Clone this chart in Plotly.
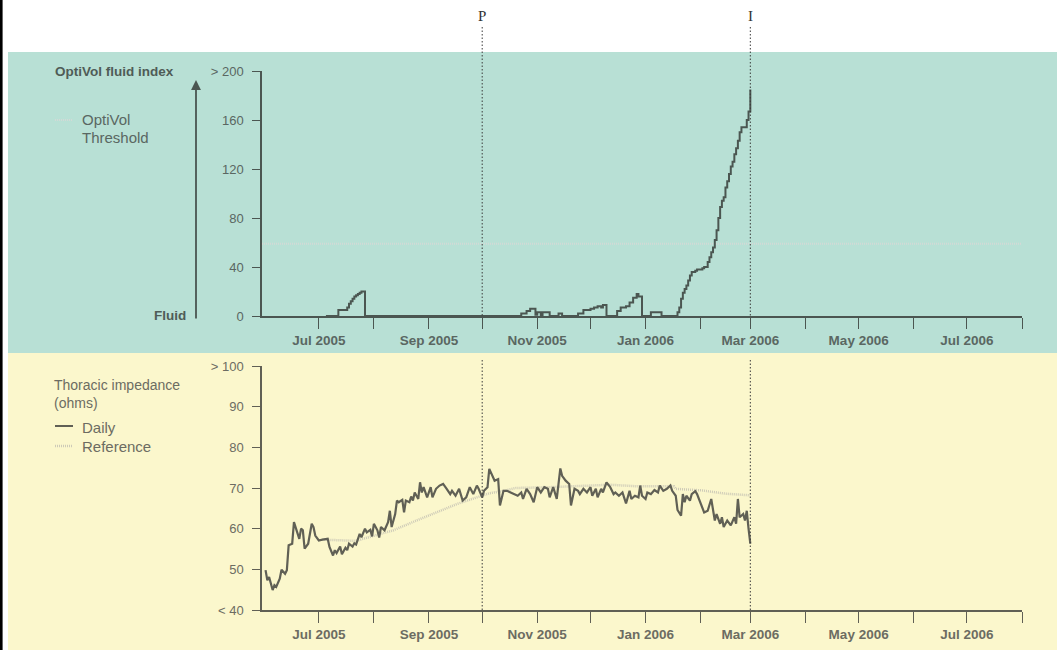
import plotly.graph_objects as go

# ---------------- data ----------------
# OptiVol fluid index (step series)
fluid_dates = [
    "2005-07-05", "2005-07-12", "2005-07-17", "2005-07-18", "2005-07-19", "2005-07-20",
    "2005-07-21", "2005-07-22", "2005-07-23", "2005-07-24", "2005-07-25", "2005-07-27",
    "2005-10-23", "2005-10-26", "2005-10-28", "2005-10-31", "2005-11-01", "2005-11-03",
    "2005-11-04", "2005-11-08", "2005-11-13", "2005-11-15", "2005-11-24", "2005-11-27",
    "2005-12-01", "2005-12-03", "2005-12-05", "2005-12-07", "2005-12-08", "2005-12-10",
    "2005-12-16", "2005-12-18", "2005-12-21", "2005-12-23", "2005-12-25", "2005-12-27",
    "2005-12-28", "2005-12-30", "2006-01-04", "2006-01-10", "2006-01-19", "2006-01-20",
    "2006-01-21", "2006-01-22", "2006-01-23", "2006-01-24", "2006-01-25", "2006-01-26",
    "2006-01-27", "2006-01-28", "2006-01-29", "2006-01-30", "2006-02-02", "2006-02-03",
    "2006-02-05", "2006-02-06", "2006-02-07", "2006-02-08", "2006-02-09", "2006-02-10",
    "2006-02-11", "2006-02-12", "2006-02-13", "2006-02-14", "2006-02-15", "2006-02-16",
    "2006-02-17", "2006-02-18", "2006-02-19", "2006-02-20", "2006-02-21", "2006-02-22",
    "2006-02-23", "2006-02-24", "2006-02-27", "2006-02-28", "2006-03-01",
]
fluid_values = [
    0, 5, 7, 10, 12, 14,
    16, 17, 18, 19, 20, 0,
    2, 4, 6, 1, 3, 0.5,
    3, 0, 2, 0, 2, 5,
    6, 7, 8, 7, 9, 0,
    4, 7, 8, 11, 15, 18,
    16, 0, 3, 0, 3, 7,
    14, 19, 22, 25, 29, 33,
    36, 36, 37, 38, 39, 40,
    44, 48, 52, 56, 62, 70,
    80, 89, 94, 97, 105, 110,
    116, 122, 126, 132, 137, 143,
    150, 154, 160, 167, 185,
]
threshold_value = 59

# Thoracic impedance, daily (ohms)
imp_dates = [
    "2005-06-01", "2005-06-02", "2005-06-03", "2005-06-05", "2005-06-06", "2005-06-07",
    "2005-06-09", "2005-06-10", "2005-06-12", "2005-06-13", "2005-06-14", "2005-06-16",
    "2005-06-17", "2005-06-19", "2005-06-20", "2005-06-21", "2005-06-22", "2005-06-23",
    "2005-06-25", "2005-06-27", "2005-06-28", "2005-06-29", "2005-07-01", "2005-07-03",
    "2005-07-06", "2005-07-07", "2005-07-09", "2005-07-10", "2005-07-11", "2005-07-13",
    "2005-07-14", "2005-07-16", "2005-07-17", "2005-07-18", "2005-07-20", "2005-07-21",
    "2005-07-22", "2005-07-24", "2005-07-25", "2005-07-27", "2005-07-28", "2005-07-30",
    "2005-07-31", "2005-08-01", "2005-08-03", "2005-08-04", "2005-08-05", "2005-08-07",
    "2005-08-09", "2005-08-10", "2005-08-11", "2005-08-13", "2005-08-14", "2005-08-15",
    "2005-08-17", "2005-08-18", "2005-08-19", "2005-08-21", "2005-08-22", "2005-08-23",
    "2005-08-24", "2005-08-26", "2005-08-27", "2005-08-28", "2005-08-29", "2005-08-31",
    "2005-09-02", "2005-09-03", "2005-09-05", "2005-09-07", "2005-09-09", "2005-09-11",
    "2005-09-13", "2005-09-14", "2005-09-16", "2005-09-18", "2005-09-20", "2005-09-22",
    "2005-09-24", "2005-09-26", "2005-09-28", "2005-09-29", "2005-10-01", "2005-10-02",
    "2005-10-04", "2005-10-05", "2005-10-07", "2005-10-08", "2005-10-10", "2005-10-11",
    "2005-10-13", "2005-10-15", "2005-10-17", "2005-10-19", "2005-10-21", "2005-10-23",
    "2005-10-24", "2005-10-26", "2005-10-28", "2005-10-30", "2005-11-01", "2005-11-03",
    "2005-11-05", "2005-11-07", "2005-11-08", "2005-11-10", "2005-11-12", "2005-11-14",
    "2005-11-15", "2005-11-17", "2005-11-19", "2005-11-20", "2005-11-22", "2005-11-24",
    "2005-11-25", "2005-11-27", "2005-11-29", "2005-12-01", "2005-12-02", "2005-12-04",
    "2005-12-05", "2005-12-07", "2005-12-08", "2005-12-10", "2005-12-12", "2005-12-14",
    "2005-12-15", "2005-12-17", "2005-12-19", "2005-12-21", "2005-12-23", "2005-12-24",
    "2005-12-26", "2005-12-28", "2005-12-29", "2005-12-30", "2006-01-01", "2006-01-02",
    "2006-01-04", "2006-01-06", "2006-01-08", "2006-01-09", "2006-01-11", "2006-01-13",
    "2006-01-15", "2006-01-16", "2006-01-18", "2006-01-19", "2006-01-21", "2006-01-22",
    "2006-01-23", "2006-01-24", "2006-01-26", "2006-01-27", "2006-01-29", "2006-01-30",
    "2006-02-01", "2006-02-03", "2006-02-05", "2006-02-07", "2006-02-09", "2006-02-10",
    "2006-02-12", "2006-02-13", "2006-02-14", "2006-02-16", "2006-02-18", "2006-02-20",
    "2006-02-21", "2006-02-22", "2006-02-23", "2006-02-25", "2006-02-26", "2006-02-27",
    "2006-02-28", "2006-03-01",
]
imp_daily = [
    49.8, 47.3, 48.1, 44.9, 46.1, 45.7,
    47.7, 49.9, 48.9, 49.8, 55.9, 56.3,
    61.6, 59.1, 57.5, 60.0, 59.6, 55.1,
    56.3, 61.2, 60.4, 58.3, 57.1, 57.3,
    57.5, 55.5, 53.4, 54.7, 54.0, 55.6,
    53.7, 55.3, 54.7, 56.3, 55.6, 56.4,
    56.1, 58.7, 57.9, 60.0, 59.1, 59.7,
    58.1, 61.2, 59.6, 57.8, 60.4, 59.6,
    61.6, 64.4, 60.4, 63.6, 66.9, 66.5,
    67.1, 64.0, 66.9, 66.5, 67.9, 66.9,
    68.9, 67.3, 71.4, 68.9, 70.2, 67.7,
    70.2, 67.7, 69.8, 70.6, 71.0, 69.8,
    68.5, 69.3, 68.1, 69.8, 66.9, 67.7,
    70.2, 68.5, 70.6, 69.8, 67.7, 69.3,
    70.2, 74.7, 73.0, 71.8, 72.2, 65.7,
    69.3, 69.3, 68.9, 68.5, 68.1, 68.9,
    67.3, 69.8, 68.5, 66.5, 70.2, 68.9,
    70.2, 69.8, 67.7, 70.2, 67.3, 74.8,
    73.0, 71.8, 71.0, 65.7, 69.8, 69.3,
    68.5, 69.8, 68.9, 70.2, 68.1, 69.8,
    67.7, 69.8, 68.9, 71.4, 70.3, 68.5,
    68.9, 68.1, 68.9, 66.2, 69.3, 67.3,
    68.1, 67.7, 70.6, 68.1, 67.3, 68.9,
    68.5, 69.5, 68.9, 70.6, 69.3, 69.8,
    70.6, 69.3, 68.1, 64.6, 63.2, 68.5,
    66.5, 68.1, 66.9, 68.5, 69.2, 68.5,
    66.1, 64.0, 64.4, 67.3, 62.0, 63.6,
    61.2, 62.8, 60.4, 62.0, 60.8, 62.8,
    61.2, 67.3, 62.8, 63.6, 62.0, 64.4,
    60.0, 56.3,
]

# Thoracic impedance, reference (ohms)
ref_dates = [
    "2005-07-03", "2005-07-22", "2005-07-30", "2005-08-12", "2005-08-25", "2005-09-05",
    "2005-09-17", "2005-09-28", "2005-10-05", "2005-10-13", "2005-10-20", "2005-11-08",
    "2005-12-12", "2005-12-28", "2006-01-17", "2006-01-18", "2006-02-02", "2006-02-15",
    "2006-03-01",
]
ref_values = [
    57.3, 57.0, 58.0, 59.6, 62.0, 64.0,
    66.1, 67.7, 68.7, 69.3, 70.0, 70.2,
    70.8, 70.4, 70.4, 69.8, 69.4, 68.6,
    68.2,
]

# axis / labels
x_range = ["2005-05-30", "2006-08-01"]
month_ticks = [
    "2005-07-01", "2005-08-01", "2005-09-01", "2005-10-01", "2005-11-01", "2005-12-01",
    "2006-01-01", "2006-02-01", "2006-03-01", "2006-04-01", "2006-05-01", "2006-06-01",
    "2006-07-01", "2006-08-01",
]
month_labels = [
    "Jul 2005", "", "Sep 2005", "", "Nov 2005", "", "Jan 2006", "", "Mar 2006", "",
    "May 2006", "", "Jul 2006", "",
]
fluid_ticks = [0, 40, 80, 120, 160, 200]
fluid_ticklabels = ["0", "40", "80", "120", "160", "> 200"]
imp_ticks = [40, 50, 60, 70, 80, 90, 100]
imp_ticklabels = ["< 40", "50", "60", "70", "80", "90", "> 100"]
event_dates = ["2005-10-01", "2006-03-01"]
event_labels = ["P", "I"]

# ---------------- styling ----------------
W, H = 1057, 650
FONT = "Liberation Sans, Arial, sans-serif"
TEAL = "#b8e0d5"
YELLOW = "#fbf7cc"
TOP_DARK = "#4b5651"
TOP_TEXT = "#5a6762"
BOT_DARK = "#606055"
BOT_TEXT = "#6c6c62"
THR_COLOR = "#d3d9d6"
REF_COLOR = "#cdcab7"


def px(x):
    return x / W


def py(y):
    return 1 - y / H


XDOM = [px(262), px(1022)]

fig = go.Figure()

fig.add_trace(go.Scatter(
    x=[x_range[0], x_range[1]], y=[threshold_value, threshold_value],
    mode="lines", line=dict(color=THR_COLOR, width=2.2, dash="1px,1px"),
    xaxis="x", yaxis="y", hoverinfo="skip"))
fig.add_trace(go.Scatter(
    x=fluid_dates, y=fluid_values, mode="lines", line_shape="hv",
    line=dict(color=TOP_DARK, width=2), xaxis="x", yaxis="y"))

fig.add_trace(go.Scatter(
    x=ref_dates, y=ref_values, mode="lines",
    line=dict(color=REF_COLOR, width=2.5, dash="1px,1px"),
    xaxis="x2", yaxis="y2", hoverinfo="skip"))
fig.add_trace(go.Scatter(
    x=imp_dates, y=imp_daily, mode="lines",
    line=dict(color=BOT_DARK, width=2.2), xaxis="x2", yaxis="y2"))

shapes = [
    dict(type="rect", xref="paper", yref="paper", x0=px(8), x1=1, y0=py(353), y1=py(52),
         fillcolor=TEAL, line=dict(width=0), layer="below"),
    dict(type="rect", xref="paper", yref="paper", x0=px(8), x1=1, y0=0, y1=py(353),
         fillcolor=YELLOW, line=dict(width=0), layer="below"),
    dict(type="rect", xref="paper", yref="paper", x0=0, x1=px(2.6), y0=0, y1=1,
         fillcolor="#000000", line=dict(width=0), layer="below"),
    # legend swatches
    dict(type="line", xref="paper", yref="paper", x0=px(55), x1=px(73), y0=py(120), y1=py(120),
         line=dict(color=THR_COLOR, width=2.2, dash="1px,1px")),
    dict(type="line", xref="paper", yref="paper", x0=px(55), x1=px(73), y0=py(426), y1=py(426),
         line=dict(color=BOT_DARK, width=2)),
    dict(type="line", xref="paper", yref="paper", x0=px(55), x1=px(73), y0=py(446), y1=py(446),
         line=dict(color=REF_COLOR, width=2.5, dash="1px,1px")),
]
annotations = []
for d, lab in zip(event_dates, event_labels):
    shapes.append(dict(type="line", xref="x", yref="paper", x0=d, x1=d, y0=py(27), y1=py(316),
                       line=dict(color="#3c3c3c", width=1, dash="1.5px,2px")))
    shapes.append(dict(type="line", xref="x2", yref="paper", x0=d, x1=d, y0=py(360), y1=py(610),
                       line=dict(color="#3c3c3c", width=1, dash="1.5px,2px")))
    annotations.append(dict(x=d, xref="x", y=py(16), yref="paper", text=lab, showarrow=False,
                            xanchor="center", yanchor="middle",
                            font=dict(family="Liberation Serif, DejaVu Serif, serif",
                                      size=15, color="#333333")))


def txt(x, y, s, size, color, bold=False, xanchor="left"):
    return dict(x=px(x), y=py(y), xref="paper", yref="paper", text=s, showarrow=False,
                xanchor=xanchor, yanchor="middle",
                font=dict(family=FONT, size=size, color=color, weight="bold" if bold else "normal"))


annotations += [
    txt(53, 71, "OptiVol fluid index", 13.5, "#4f5c57", bold=True),
    txt(80, 119, "OptiVol", 15, TOP_TEXT),
    txt(80, 137, "Threshold", 15, TOP_TEXT),
    txt(188, 315, "Fluid", 13.5, "#4f5c57", bold=True, xanchor="right"),
    txt(52, 385, "Thoracic impedance", 14, BOT_TEXT),
    txt(52, 403, "(ohms)", 14, BOT_TEXT),
    txt(80, 427, "Daily", 15, BOT_TEXT),
    txt(80, 446, "Reference", 15, BOT_TEXT),
    dict(x=px(196), y=py(80), xref="paper", yref="paper", ax=0, ay=240, axref="pixel",
         ayref="pixel", text="", showarrow=True, arrowhead=2, arrowsize=1.1, arrowwidth=1.8,
         arrowcolor=TOP_DARK),
]

xcommon = dict(range=x_range, domain=XDOM, type="date", tickmode="array",
               tickvals=month_ticks, ticktext=month_labels, ticks="outside", ticklen=11,
               tickwidth=1.3, showline=True, linewidth=1.5, showgrid=False, zeroline=False,
               fixedrange=True, automargin=False)

fig.update_layout(
    template="none",
    width=W, height=H, autosize=False,
    margin=dict(l=0, r=0, t=0, b=0, pad=0, autoexpand=False),
    paper_bgcolor="white", plot_bgcolor="rgba(0,0,0,0)",
    showlegend=False,
    font=dict(family=FONT),
    xaxis=dict(anchor="y", linecolor=TOP_DARK, tickcolor=TOP_DARK,
               tickfont=dict(size=13.5, color=TOP_TEXT, weight="bold"), **xcommon),
    xaxis2=dict(anchor="y2", linecolor=BOT_DARK, tickcolor=BOT_DARK,
                tickfont=dict(size=13.5, color=BOT_TEXT, weight="bold"), **xcommon),
    yaxis=dict(domain=[py(316), py(71)], range=[0, 200], anchor="x",
               tickmode="array", tickvals=fluid_ticks, ticktext=fluid_ticklabels,
               ticks="outside", ticklen=8, tickwidth=1.3, tickcolor=TOP_DARK,
               ticklabelstandoff=6,
               showline=True, linewidth=1.5, linecolor=TOP_DARK, showgrid=False,
               zeroline=False, tickfont=dict(size=13, color=TOP_TEXT), fixedrange=True,
               automargin=False),
    yaxis2=dict(domain=[py(610), py(366)], range=[40, 100], anchor="x2",
                tickmode="array", tickvals=imp_ticks, ticktext=imp_ticklabels,
                ticks="outside", ticklen=8, tickwidth=1.3, tickcolor=BOT_DARK,
                ticklabelstandoff=6,
                showline=True, linewidth=1.5, linecolor=BOT_DARK, showgrid=False,
                zeroline=False, tickfont=dict(size=13, color=BOT_TEXT), fixedrange=True,
                automargin=False),
    shapes=shapes,
    annotations=annotations,
)

fig.write_html("out.html", config={"displayModeBar": False},
               post_script="document.body.style.margin='0';document.body.style.overflow='hidden';")
